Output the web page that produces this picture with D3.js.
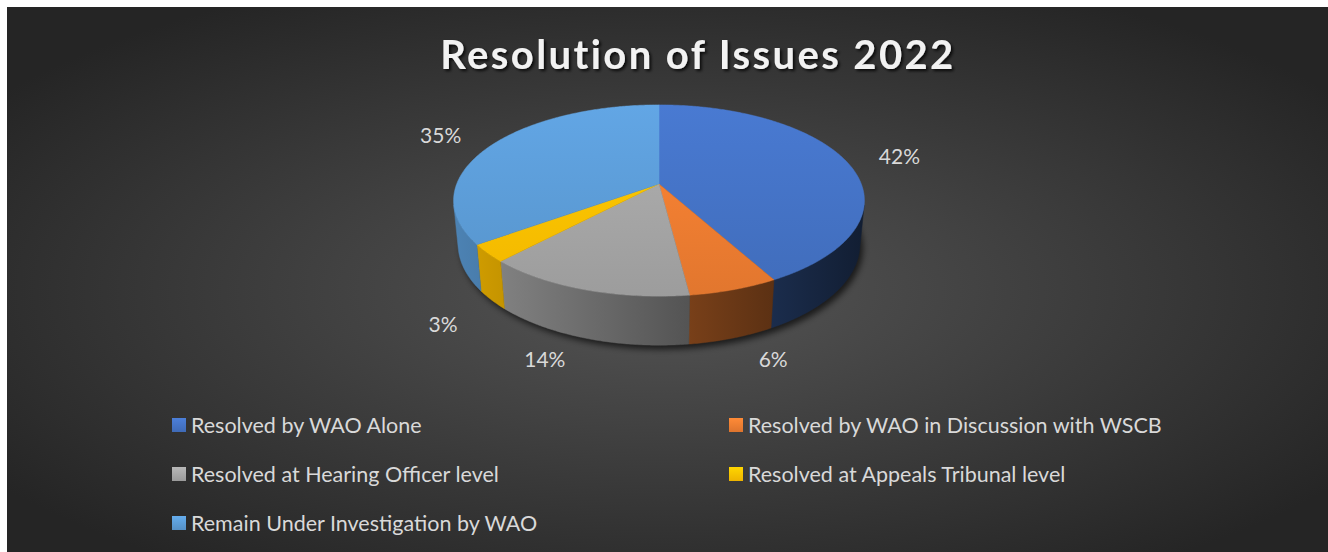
<!DOCTYPE html>
<html>
<head>
<meta charset="utf-8">
<script src="https://cdn.jsdelivr.net/npm/d3@7"></script>
<style>
  html, body { margin: 0; padding: 0; background: #fff; }
  svg { display: block; }
</style>
</head>
<body>
<svg id="svg" width="1328" height="552"></svg>
<script>
// chart data
var categories = [
  "Resolved by WAO Alone",
  "Resolved by WAO in Discussion with WSCB",
  "Resolved at Hearing Officer level",
  "Resolved at Appeals Tribunal level",
  "Remain Under Investigation by WAO"
];
var values = [42, 6, 14, 3, 35];
var colors = ["#4472c4", "#ed7d31", "#a5a5a5", "#ffc000", "#5b9bd5"];
var title = "Resolution of Issues 2022";

var svg = d3.select("#svg");
var width = 1328, height = 552;
var font = "Lato, 'Open Sans', sans-serif";

// 3d view settings for the pie (apex position, camera tilt and distance)
var cx = 659, cy = 184;
var tilt = 27.3 * Math.PI / 180;
var sa = Math.sin(tilt), ca = Math.cos(tilt);
var camDist = 5.14, focal = 1040, thick = 0.245;

function project(r, theta, h) {
  var X = r * Math.sin(theta), Z = -r * Math.cos(theta);
  var d = camDist - (h * sa + Z * ca);
  var up = h * ca - Z * sa;
  return [cx + X * focal / d, cy - up * focal / d];
}

var defs = svg.append("defs");

// background
var bg = defs.append("radialGradient").attr("id", "bg")
  .attr("cx", "50%").attr("cy", "52%").attr("r", "62%");
bg.append("stop").attr("offset", "0%").attr("stop-color", "#555555");
bg.append("stop").attr("offset", "100%").attr("stop-color", "#252525");
svg.append("rect").attr("x", 7).attr("y", 7)
  .attr("width", width - 7).attr("height", height - 7)
  .attr("fill", "url(#bg)");

// title
var shadow = defs.append("filter").attr("id", "tshadow")
  .attr("x", "-10%").attr("y", "-30%").attr("width", "120%").attr("height", "160%");
shadow.append("feDropShadow").attr("dx", 2).attr("dy", 2)
  .attr("stdDeviation", 1.5).attr("flood-color", "#000").attr("flood-opacity", 0.8);

svg.append("text")
  .attr("x", 698).attr("y", 69)
  .attr("text-anchor", "middle")
  .attr("fill", "#f2f2f2")
  .attr("font-family", font)
  .attr("font-weight", "bold")
  .attr("font-size", 40)
  .attr("letter-spacing", 2.4)
  .attr("filter", "url(#tshadow)")
  .text(title);

var pie = d3.pie().sort(null).startAngle(0).endAngle(2 * Math.PI);
var arcs = pie(values);

var step = Math.PI / 360;
function rim(a0, a1, h) {
  var pts = [];
  var n = Math.max(2, Math.ceil((a1 - a0) / step));
  for (var i = 0; i <= n; i++) pts.push(project(1, a0 + (a1 - a0) * i / n, h));
  return pts;
}
var line = d3.line();

// drop shadow under the pie
var pshadow = defs.append("filter").attr("id", "pshadow")
  .attr("x", "-20%").attr("y", "-20%").attr("width", "140%").attr("height", "140%");
pshadow.append("feGaussianBlur").attr("stdDeviation", 3);
svg.append("path")
  .attr("d", line(rim(0, 2 * Math.PI, -thick)) + "Z")
  .attr("transform", "translate(3,4)")
  .attr("fill", "#000")
  .attr("opacity", 0.65)
  .attr("filter", "url(#pshadow)");

// side gradients (lighter at left, darker at right)
var left = project(1, 1.5 * Math.PI, 0)[0], right = project(1, 0.5 * Math.PI, 0)[0];
colors.forEach(function(c, i) {
  var base = d3.rgb(c);
  var g = defs.append("linearGradient").attr("id", "side" + i)
    .attr("gradientUnits", "userSpaceOnUse")
    .attr("x1", left).attr("x2", right).attr("y1", 0).attr("y2", 0);
  [[0, 0.84], [1, 0.26]].forEach(function(s) {
    g.append("stop").attr("offset", s[0])
      .attr("stop-color", d3.rgb(base.r * s[1], base.g * s[1], base.b * s[1]).toString());
  });
  var t = defs.append("linearGradient").attr("id", "top" + i)
    .attr("gradientUnits", "userSpaceOnUse")
    .attr("x1", 0).attr("x2", 0).attr("y1", 105).attr("y2", 300);
  t.append("stop").attr("offset", 0).attr("stop-color", base.brighter(0.2).toString());
  t.append("stop").attr("offset", 1).attr("stop-color", base.darker(0.15).toString());
  var m = defs.append("linearGradient").attr("id", "key" + i)
    .attr("x1", 0).attr("x2", 0).attr("y1", 0).attr("y2", 1);
  m.append("stop").attr("offset", 0).attr("stop-color", base.brighter(0.3).toString());
  m.append("stop").attr("offset", 1).attr("stop-color", base.darker(0.2).toString());
});

// outer walls, only the part facing the camera
var visLimit = Math.acos(-1 / (camDist * ca));
var visFrom = visLimit, visTo = 2 * Math.PI - visLimit;
var sides = svg.append("g");
arcs.forEach(function(a, i) {
  var a0 = Math.max(a.startAngle, visFrom), a1 = Math.min(a.endAngle, visTo);
  if (a1 <= a0) return;
  var top = rim(a0, a1, 0), bottom = rim(a0, a1, -thick).reverse();
  sides.append("path")
    .attr("d", line(top.concat(bottom)) + "Z")
    .attr("fill", "url(#side" + i + ")")
    .attr("stroke", "url(#side" + i + ")")
    .attr("stroke-width", 0.5);
});

// top faces
var tops = svg.append("g");
arcs.forEach(function(a, i) {
  var pts = [project(0, 0, 0)].concat(rim(a.startAngle, a.endAngle, 0));
  tops.append("path")
    .attr("d", line(pts) + "Z")
    .attr("fill", "url(#top" + i + ")")
    .attr("stroke", "url(#top" + i + ")")
    .attr("stroke-width", 0.5);
});

// data labels, outside end
var total = d3.sum(values);
svg.append("g").selectAll("text")
  .data(arcs)
  .join("text")
  .attr("transform", function(a) {
    var m = (a.startAngle + a.endAngle) / 2;
    var s = Math.sin(m), c = Math.cos(m);
    var p = project(1, m, c < 0 ? -thick : 0);
    var dx = 17 * s + 36 * Math.sign(s);
    var dy = -21 * c + (c < 0 ? 18 * s * s : 0);
    return "translate(" + (p[0] + dx) + "," + (p[1] + dy) + ")";
  })
  .attr("text-anchor", "middle")
  .attr("dy", "0.35em")
  .attr("fill", "#d9d9d9")
  .attr("font-family", font)
  .attr("font-size", 21)
  .text(function(a) { return Math.round(a.data / total * 100) + "%"; });

// legend
var legendX = [172, 729], legendY = 418, rowGap = 49;
var legend = svg.append("g").selectAll("g")
  .data(categories)
  .join("g")
  .attr("transform", function(d, i) {
    return "translate(" + legendX[i % 2] + "," + (legendY + Math.floor(i / 2) * rowGap) + ")";
  });
legend.append("rect")
  .attr("width", 14).attr("height", 14)
  .attr("fill", function(d, i) { return "url(#key" + i + ")"; });
legend.append("text")
  .attr("x", 19).attr("y", 7).attr("dy", "0.35em")
  .attr("fill", "#d9d9d9")
  .attr("font-family", font)
  .attr("font-size", 21.5)
  .text(function(d) { return d; });
</script>
</body>
</html>
